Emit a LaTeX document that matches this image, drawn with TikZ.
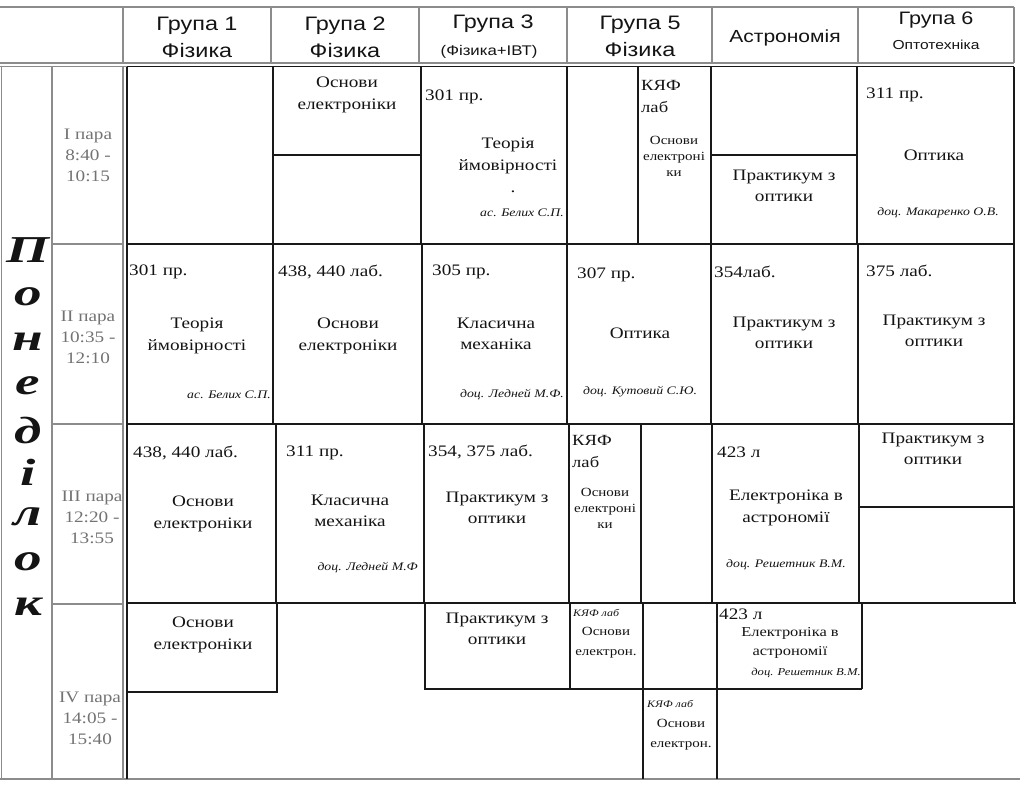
\documentclass[tikz,border=0pt]{standalone}
\usepackage{fontspec}
\setmainfont{Liberation Serif}[FakeStretch=1.2]
\newfontfamily\hsans{Liberation Sans}[FakeStretch=1.2]
\newfontfamily\dayfont{Liberation Serif}[FakeStretch=1.45]
\definecolor{ink}{gray}{0.08}
\definecolor{tgray}{gray}{0.45}
\begin{document}
\begin{tikzpicture}[x=1pt,y=-1pt,
  bl/.style={line width=1.8pt, draw=black!90},
  gl/.style={line width=1.3pt, draw=black!45},
  body/.style={inner sep=0pt, text=ink, align=center, font=\fontsize{16}{21.5}\selectfont},
  room/.style={inner sep=0pt, text=ink, anchor=west, font=\fontsize{16}{21.5}\selectfont},
  prof/.style={inner sep=0pt, text=ink, font=\itshape\fontsize{11.5}{14}\selectfont},
  small/.style={inner sep=0pt, text=ink, align=center, font=\fontsize{12.5}{16}\selectfont},
  kyaf/.style={inner sep=0pt, text=ink, anchor=west, align=left, font=\fontsize{15.5}{22}\selectfont},
  tiny/.style={inner sep=0pt, text=ink, anchor=west, font=\itshape\fontsize{10}{10}\selectfont},
  hd/.style={inner sep=0pt, text=ink, align=center, font=\hsans\fontsize{19.5}{27}\selectfont},
  hdsmall/.style={inner sep=0pt, text=ink, font=\hsans\fontsize{13}{15}\selectfont},
  tm/.style={inner sep=0pt, text=tgray, align=center, font=\fontsize{16}{21}\selectfont},
  day/.style={inner sep=0pt, text=black!92, font=\dayfont\fontsize{38}{38}\selectfont\bfseries\itshape}]
\useasboundingbox (0,0) rectangle (1024,785);
\fill[white] (0,0) rectangle (1024,785);

% ---------- header grid
\draw[gl] (0,7) -- (1014,7);
\draw[gl] (0,63) -- (1014,63);
\foreach \x in {123,271,419,567,712,858,1014} \draw[gl] (\x,7) -- (\x,63);

% ---------- left columns
\draw[gl] (0,66.5) -- (127,66.5);
\draw[gl] (1.5,66.5) -- (1.5,779);
\draw[gl] (52,66.5) -- (52,779);
\draw[gl] (123,66.5) -- (123,779);
\foreach \y in {244,424,604} \draw[gl] (52,\y) -- (123,\y);
\draw[gl] (0,779) -- (1020,779);

% ---------- body grid
\draw[bl] (127,66.5) -- (1014,66.5);
\draw[bl] (127,66.5) -- (127,779);
\draw[bl] (1014,66.5) -- (1014,603);
\draw[bl] (127,244) -- (1014,244);
\draw[bl] (127,424) -- (1014,424);
\draw[bl] (127,603) -- (1016,603);
% row I
\foreach \x in {273,421,567,638,711,857} \draw[bl] (\x,66.5) -- (\x,244);
\draw[bl] (273,155) -- (421,155);
\draw[bl] (711,155) -- (857,155);
% row II
\foreach \x in {273,422,567,711,858} \draw[bl] (\x,244) -- (\x,424);
% row III
\foreach \x in {276,424,569,641,712,859} \draw[bl] (\x,424) -- (\x,603);
\draw[bl] (859,507) -- (1014,507);
% row IV
\draw[bl] (277,603) -- (277,692) -- (127,692);
\draw[bl] (425,603) -- (425,689) -- (862,689);
\draw[bl] (570,603) -- (570,689);
\draw[bl] (643,603) -- (643,779);
\draw[bl] (717,603) -- (717,779);
\draw[bl] (862,603) -- (862,689);

% ---------- header texts
\node[hd] (h1) at (197,37.5) {Група 1\\Фізика};
\node[hd] (h2) at (345,37.5) {Група 2\\Фізика};
\node[hd] (h3) at (493,24) {Група 3};
\node[hdsmall, font=\hsans\fontsize{14}{15}\selectfont] (h3b) at (489,52) {(Фізика+ІВТ)};
\node[hd] (h5) at (640,36.5) {Група 5\\Фізика};
\node[hd, font=\hsans\fontsize{17.5}{20}\selectfont] (ha) at (785,38) {Астрономія};
\node[hd, font=\hsans\fontsize{18}{20}\selectfont] (h6) at (936,20) {Група 6};
\node[hdsmall] (h6b) at (936,45) {Оптотехніка};

% ---------- day
\node[day] (d1) at (28,250) {П};
\node[day] (d2) at (28,297) {о};
\node[day] (d3) at (28,342) {н};
\node[day] (d4) at (28,386) {е};
\node[day] (d5) at (28,430) {д};
\node[day] (d6) at (28,472) {і};
\node[day] (d7) at (28,517) {л};
\node[day] (d8) at (28,562) {о};
\node[day] (d9) at (28,607) {к};

% ---------- times
\node[tm] (t1) at (88,155) {I пара\\8:40 -\\10:15};
\node[tm] (t2) at (88,337) {II пара\\10:35 -\\12:10};
\node[tm] (t3) at (92,517) {III пара\\12:20 -\\13:55};
\node[tm] (t4) at (90,718) {IV пара\\14:05 -\\15:40};

% ---------- row I
\node[body] (a2) at (347,95) {Основи\\електроніки};
\node[room] (a3r) at (425,97) {301 пр.};
\node[body] (a3) at (508,156) {Теорія\\ймовірності};
\node[body] (a3d) at (513,192) {.};
\node[prof, anchor=east] (a3p) at (564,213) {ас. Белих С.П.};
\node[kyaf] (a5r) at (641,96) {КЯФ\\лаб};
\node[small] (a5) at (674,156) {Основи\\електроні\\ки};
\node[body] (aa) at (784,186) {Практикум з\\оптики};
\node[room] (a6r) at (866,95) {311 пр.};
\node[body] (a6) at (934,155) {Оптика};
\node[prof] (a6p) at (938,213) {доц. Макаренко О.В.};

% ---------- row II
\node[room] (b1r) at (129,272) {301 пр.};
\node[body] (b1) at (197,336) {Теорія\\ймовірності};
\node[prof, anchor=east] (b1p) at (271,395) {ас. Белих С.П.};
\node[room] (b2r) at (278,272) {438, 440 лаб.};
\node[body] (b2) at (348,336) {Основи\\електроніки};
\node[room] (b3r) at (432,272) {305 пр.};
\node[body] (b3) at (496,334) {Класична\\механіка};
\node[prof, anchor=east] (b3p) at (564,395) {доц. Ледней М.Ф.};
\node[room] (b5r) at (577,275) {307 пр.};
\node[body] (b5) at (640,333) {Оптика};
\node[prof] (b5p) at (640,392) {доц. Кутовий С.Ю.};
\node[room] (bar) at (714,272) {354лаб.};
\node[body] (ba) at (784,333) {Практикум з\\оптики};
\node[room] (b6r) at (866,271) {375 лаб.};
\node[body] (b6) at (934,331) {Практикум з\\оптики};

% ---------- row III
\node[room] (c1r) at (133,453) {438, 440 лаб.};
\node[body] (c1) at (203,514) {Основи\\електроніки};
\node[room] (c2r) at (286,453) {311 пр.};
\node[body] (c2) at (350,511) {Класична\\механіка};
\node[prof, anchor=east] (c2p) at (418,568) {доц. Ледней М.Ф};
\node[room] (c3r) at (428,452) {354, 375 лаб.};
\node[body] (c3) at (497,508) {Практикум з\\оптики};
\node[kyaf] (c5r) at (572,451) {КЯФ\\лаб};
\node[small] (c5) at (605,508) {Основи\\електроні\\ки};
\node[room] (car) at (717,452) {423 л};
\node[body] (ca) at (786,508) {Електроніка в\\астрономії};
\node[prof] (cap) at (786,565) {доц. Решетник В.М.};
\node[body] (c6) at (933,449) {Практикум з\\оптики};

% ---------- row IV
\node[body] (e1) at (203,635) {Основи\\електроніки};
\node[body] (e3) at (497,629) {Практикум з\\оптики};
\node[tiny] (e5r) at (573,613) {КЯФ лаб};
\node[small, font=\fontsize{12.5}{20}\selectfont] (e5) at (606,643) {Основи\\електрон.};
\node[room] (ear) at (719,614) {423 л};
\node[body, font=\fontsize{13.7}{19}\selectfont] (ea) at (790,643) {Електроніка в\\астрономії};
\node[prof, font=\itshape\fontsize{10.5}{12}\selectfont] (eap) at (806,673) {доц. Решетник В.М.};
\node[tiny] (f5r) at (647,704) {КЯФ лаб};
\node[small, font=\fontsize{12.5}{20}\selectfont] (f5) at (681,735) {Основи\\електрон.};
\end{tikzpicture}
\end{document}
